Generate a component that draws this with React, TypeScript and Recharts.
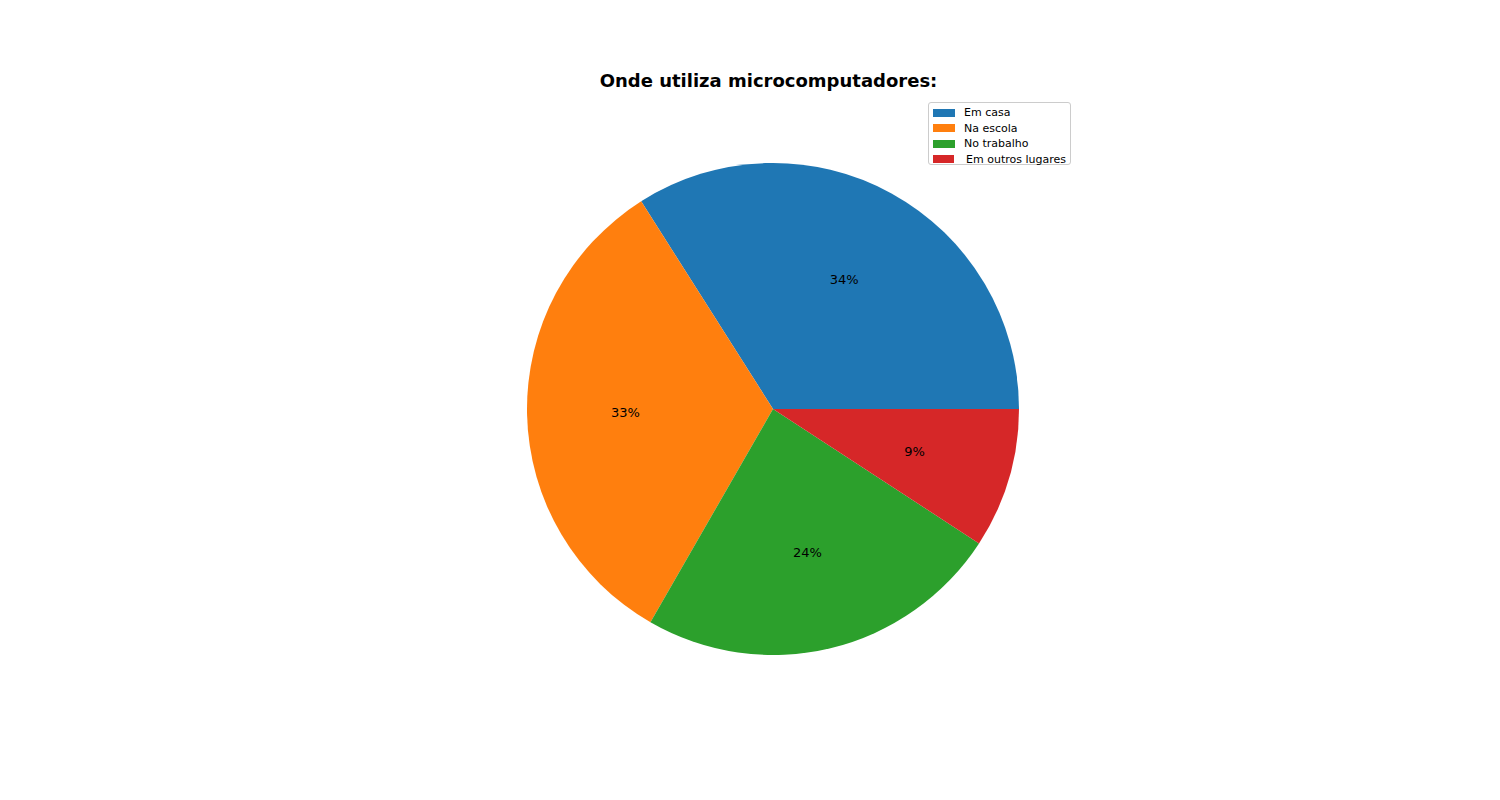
import { PieChart, Pie, Cell } from "recharts";

const CATEGORIES = ["Em casa", "Na escola", "No trabalho", " Em outros lugares"];
const VALUES = [34.0, 32.7, 24.1, 9.2];
const COLORS = ["#1f77b4", "#ff7f0e", "#2ca02c", "#d62728"];

const data = CATEGORIES.map((name, i) => ({ name, value: VALUES[i] }));
const RADIAN = Math.PI / 180;
const FONT = "'DejaVu Sans', sans-serif";

function renderLabel(props: any) {
  const { cx, cy, midAngle, outerRadius, percent } = props;
  const r = outerRadius * 0.6;
  const x = cx + r * Math.cos(-midAngle * RADIAN);
  const y = cy + r * Math.sin(-midAngle * RADIAN);
  return (
    <text x={x} y={y} textAnchor="middle" dominantBaseline="central" fontSize={13} fontFamily={FONT} fill="#000">
      {Math.round(percent * 100)}%
    </text>
  );
}

export default function App() {
  return (
    <div style={{ position: "absolute", top: 0, left: 0, width: 1500, height: 800, background: "#fff", fontFamily: FONT }}>
      <div style={{ position: "absolute", top: 70, left: 0, width: 1537, textAlign: "center", fontSize: 18, fontWeight: 700 }}>
        Onde utiliza microcomputadores:
      </div>
      <PieChart width={1500} height={800}>
        <Pie
          data={data}
          dataKey="value"
          cx={768}
          cy={404}
          outerRadius={246}
          startAngle={0}
          endAngle={360}
          stroke="none"
          label={renderLabel}
          labelLine={false}
          isAnimationActive={false}
        >
          {data.map((d, i) => (
            <Cell key={d.name} fill={COLORS[i]} />
          ))}
        </Pie>
      </PieChart>
      <div
        style={{
          position: "absolute",
          left: 928,
          top: 102,
          width: 143,
          height: 63,
          border: "1px solid #ccc",
          borderRadius: 3,
          background: "#fff",
          fontSize: 11,
          boxSizing: "border-box",
          padding: "2px 4px",
        }}
      >
        {CATEGORIES.map((c, i) => (
          <div key={c} style={{ display: "flex", alignItems: "center", height: 15.5, whiteSpace: "pre" }}>
            <span style={{ display: "inline-block", width: 22, height: 8, background: COLORS[i], marginRight: 9 }} />
            {c}
          </div>
        ))}
      </div>
    </div>
  );
}
